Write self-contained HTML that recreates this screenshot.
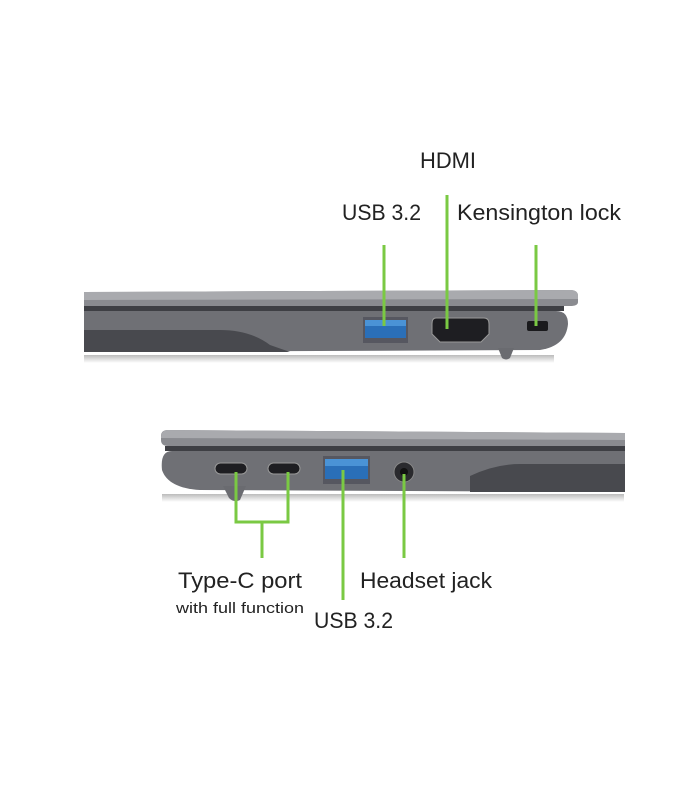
<!DOCTYPE html>
<html><head><style>body{margin:0;background:#fff}svg{display:block}text{font-family:"Liberation Sans","DejaVu Sans",sans-serif;fill:#222}</style></head><body>
<svg width="700" height="800" viewBox="0 0 700 800">
<defs>
<linearGradient id="sh" x1="0" y1="0" x2="0" y2="1"><stop offset="0" stop-color="#bbb"/><stop offset="1" stop-color="#fff"/></linearGradient>
</defs>
<!-- top laptop -->
<rect x="84" y="355" width="470" height="8" fill="url(#sh)"/>
<path d="M84 292 L570 290 Q578 290 578 296 L578 302 Q578 306 570 306 L84 306Z" fill="#8a8b90"/>
<path d="M84 292 L570 290 Q578 290 578 296 L578 299 L84 300Z" fill="#a9aaae"/>
<rect x="84" y="306" width="480" height="5" fill="#3e3f44"/>
<path d="M84 311 L556 311 Q568 311 568 324 Q566 346 540 350 L84 352Z" fill="#6f7075"/>
<path d="M84 330 L220 330 Q250 330 270 345 L290 352 L84 352Z" fill="#48494e"/>
<path d="M498 348 L514 348 L510 358 Q506 361 502 358Z" fill="#6a6b70"/>
<rect x="363" y="317" width="45" height="26" fill="#565760"/>
<rect x="365" y="320" width="41" height="18" fill="#2a6fb8"/>
<rect x="365" y="320" width="41" height="6" fill="#4a93d6"/>
<path d="M436 318 L484 318 Q489 318 489 324 L489 334 L481 342 L440 342 L432 334 L432 324 Q432 318 436 318Z" fill="#1e1e22" stroke="#999" stroke-width="1"/>
<rect x="527" y="321" width="21" height="10" rx="2" fill="#1a1a1d"/>
<g stroke="#7ac943" stroke-width="3">
<line x1="384" y1="245" x2="384" y2="326"/>
<line x1="447" y1="195" x2="447" y2="329"/>
<line x1="536" y1="245" x2="536" y2="326"/>
</g>
<text x="420" y="168" font-size="22" textLength="56" lengthAdjust="spacingAndGlyphs">HDMI</text>
<text x="342" y="220" font-size="22" textLength="79" lengthAdjust="spacingAndGlyphs">USB 3.2</text>
<text x="457" y="220" font-size="22" textLength="164" lengthAdjust="spacingAndGlyphs">Kensington lock</text>
<!-- bottom laptop -->
<rect x="162" y="494" width="462" height="8" fill="url(#sh)"/>
<path d="M168 430 L625 433 L625 449 L168 446 Q161 446 161 440 L161 436 Q161 430 168 430Z" fill="#8a8b90"/>
<path d="M168 430 L625 433 L625 440 L161 438 Q161 430 168 430Z" fill="#a9aaae"/>
<rect x="165" y="446" width="460" height="5" fill="#3e3f44"/>
<path d="M172 451 L625 451 L625 492 L200 490 Q168 488 162 470 Q160 451 172 451Z" fill="#6f7075"/>
<path d="M470 476 Q495 464 520 464 L625 464 L625 492 L470 492Z" fill="#48494e"/>
<path d="M223 486 L246 486 L240 500 Q234 503 229 498Z" fill="#6a6b70"/>
<rect x="215" y="463" width="32" height="11" rx="5.5" fill="#1e1e22" stroke="#999"/>
<rect x="268" y="463" width="32" height="11" rx="5.5" fill="#1e1e22" stroke="#999"/>
<rect x="323" y="456" width="47" height="28" fill="#565760"/>
<rect x="325" y="459" width="43" height="20" fill="#2a6fb8"/>
<rect x="325" y="459" width="43" height="7" fill="#4a93d6"/>
<circle cx="404" cy="472" r="10" fill="#2a2a2e" stroke="#888"/>
<circle cx="404" cy="472" r="4" fill="#111"/>
<g stroke="#7ac943" stroke-width="3" fill="none">
<polyline points="236,472 236,522 288,522 288,472"/>
<line x1="262" y1="522" x2="262" y2="558"/>
<line x1="343" y1="470" x2="343" y2="600"/>
<line x1="404" y1="474" x2="404" y2="558"/>
</g>
<text x="178" y="588" font-size="22" textLength="124" lengthAdjust="spacingAndGlyphs">Type-C port</text>
<text x="176" y="613" font-size="15" textLength="128" lengthAdjust="spacingAndGlyphs">with full function</text>
<text x="314" y="628" font-size="22" textLength="79" lengthAdjust="spacingAndGlyphs">USB 3.2</text>
<text x="360" y="588" font-size="22" textLength="132" lengthAdjust="spacingAndGlyphs">Headset jack</text>
</svg>
</body></html>
